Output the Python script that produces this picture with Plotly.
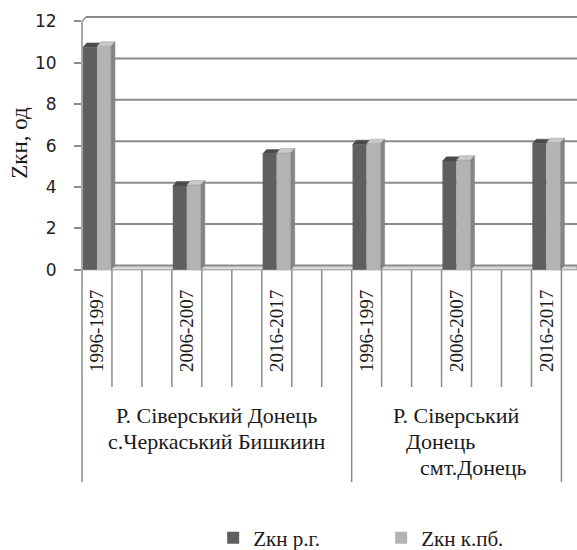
import plotly.graph_objects as go

# ---------------- data ----------------
group_labels = [
    "Р. Сіверський Донець<br>с.Черкаський Бишкиин",
    "Р. Сіверський<br>Донець\u00a0\u00a0\u00a0\u00a0\u00a0\u00a0<br>\u00a0\u00a0\u00a0\u00a0\u00a0\u00a0смт.Донець",
]
periods = ["1996-1997", "2006-2007", "2016-2017"]
series_names = ["Zкн р.г.", "Zкн к.пб."]
zkn_rg = [10.75, 4.05, 5.6, 6.05, 5.25, 6.1]
zkn_kpb = [10.8, 4.1, 5.65, 6.1, 5.3, 6.15]
y_ticks = [0, 2, 4, 6, 8, 10, 12]

# ---------------- layout helpers ----------------
group_slots = [9, 7]          # category slots per group (periods + empty slots)
period_step = 3
W = 0.47                      # bar width in slots
DX, DY = 0.13, 0.21           # 3-D depth offset (slots, value units)
X0, X1 = -0.5, 16.02
Y0, Y1 = -0.25, 12.5
M_T, M_B, M_L = 11, 275, 82
H = 550
PLOT_H = H - M_T - M_B
LINE_PX = 26                  # line spacing of the group labels

def ypaper(pix):
    return (H - M_B - pix) / PLOT_H

def vpaper(v):
    return (v - Y0) / (Y1 - Y0)

xs, xlabels = [], []
start = 0
for g, n in enumerate(group_slots):
    for j, p in enumerate(periods):
        xs.append(start + period_step * j)
        xlabels.append(p)
    start += n

DARK, LIGHT = "#5f5f5f", "#b3b3b3"
GRID = "#8c8c8c"
SERIF = "Liberation Serif"

fig = go.Figure()
fig.add_trace(go.Bar(x=xs, y=zkn_rg, width=W, offset=-W, name=series_names[0],
                     marker=dict(color=DARK, line=dict(width=0))))
fig.add_trace(go.Bar(x=xs, y=zkn_kpb, width=W, offset=0, name=series_names[1],
                     marker=dict(color=LIGHT, line=dict(width=0))))

shapes = []
# floor
shapes.append(dict(type="path", xref="x", yref="y", layer="below",
                   path=f"M{X0},0 L{X1},0 L{X1},{DY} L{X0+DX},{DY} Z",
                   fillcolor="#d9d9d9", line=dict(color="#9a9a9a", width=1)))
# back wall gridlines
for v in y_ticks:
    shapes.append(dict(type="line", xref="x", yref="y", layer="below",
                       x0=X0 + DX, x1=X1, y0=v + DY, y1=v + DY,
                       line=dict(color=GRID, width=2)))
shapes.append(dict(type="line", xref="x", yref="y", layer="below",
                   x0=X0, x1=X0 + DX, y0=max(y_ticks), y1=max(y_ticks) + DY,
                   line=dict(color=GRID, width=1.5)))
# y axis line
shapes.append(dict(type="line", xref="paper", yref="y", x0=0, x1=0,
                   y0=0, y1=max(y_ticks), line=dict(color=GRID, width=1.5)))

# 3-D faces of bars
for x, a, b in zip(xs, zkn_rg, zkn_kpb):
    shapes.append(dict(type="path", xref="x", yref="y",
                       path=f"M{x-W},{a} L{x},{a} L{x+DX},{a+DY} L{x-W+DX},{a+DY} Z",
                       fillcolor="#4a4a4a", line=dict(color="#555555", width=0.5)))
    shapes.append(dict(type="path", xref="x", yref="y",
                       path=f"M{x},{b} L{x+W},{b} L{x+W+DX},{b+DY} L{x+DX},{b+DY} Z",
                       fillcolor="#c9c9c9", line=dict(color="#999999", width=0.5)))
    shapes.append(dict(type="path", xref="x", yref="y",
                       path=f"M{x+W},0 L{x+W},{b} L{x+W+DX},{b+DY} L{x+W+DX},{DY} Z",
                       fillcolor="#858585", line=dict(color="#808080", width=0.5)))

# category table lines
bounds = [-0.5]
for n in group_slots:
    bounds.append(bounds[-1] + n)
k = -0.5
while k < X1:
    long_line = any(abs(k - bb) < 1e-9 for bb in bounds)
    xr, xv = ("paper", 0) if k == -0.5 else ("x", k)
    shapes.append(dict(type="line", xref=xr, yref="paper", x0=xv, x1=xv,
                       y0=vpaper(0), y1=ypaper(482 if long_line else 387),
                       line=dict(color=GRID, width=1.5)))
    k += 1

annotations = []
for g, lab in enumerate(group_labels):
    cx = (bounds[g] + bounds[g + 1]) / 2
    for li, line in enumerate(lab.split("<br>")):
        annotations.append(dict(x=cx, xref="x", y=ypaper(415 + LINE_PX * li), yref="paper",
                                text=line, showarrow=False, yanchor="middle", xanchor="center",
                                font=dict(family=SERIF, size=22, color="#1a1a1a")))

fig.update_layout(
    template="none",
    width=577, height=550,
    margin=dict(l=M_L, r=0, t=M_T, b=M_B, autoexpand=False),
    paper_bgcolor="white", plot_bgcolor="white",
    barmode="overlay",
    showlegend=True,
    legend=dict(orientation="h", x=0.265, y=ypaper(538), xanchor="left", yanchor="middle",
                font=dict(family=SERIF, size=21, color="#1a1a1a"),
                entrywidth=123, bgcolor="rgba(0,0,0,0)"),
    xaxis=dict(range=[X0, X1], tickmode="array", tickvals=xs, ticktext=xlabels,
               tickangle=-90, ticks="", showgrid=False, zeroline=False, showline=False,
               automargin=False, ticklabelstandoff=10,
               tickfont=dict(family=SERIF, size=19, color="#1a1a1a")),
    yaxis=dict(range=[Y0, Y1], tickmode="array", tickvals=y_ticks,
               ticks="outside", ticklen=7, tickwidth=1.5, tickcolor=GRID,
               showgrid=False, zeroline=False, showline=False, automargin=False,
               ticklabelstandoff=14,
               tickfont=dict(family="DejaVu Sans", size=17, color="#222222"),
               title=dict(text="Zкн, од", standoff=0,
                          font=dict(family=SERIF, size=23, color="#1a1a1a"))),
    shapes=shapes,
    annotations=annotations,
)

fig.write_html("out.html", config={"displayModeBar": False},
               post_script="document.body.style.margin='0';")
